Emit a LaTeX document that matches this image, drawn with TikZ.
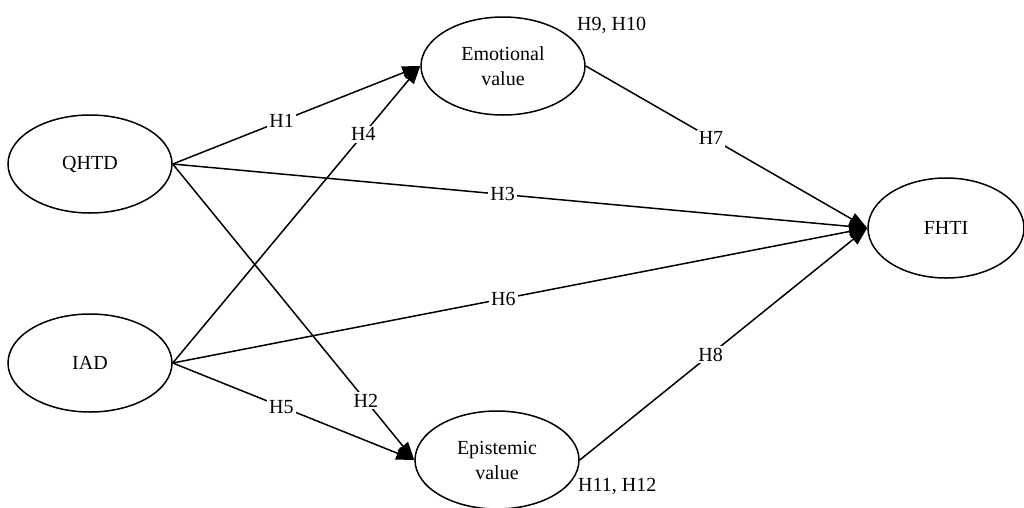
\documentclass[tikz,border=0pt]{standalone}
\usepackage{fontspec}
\setmainfont{Liberation Serif}
\usetikzlibrary{arrows.meta, shapes.geometric}

\begin{document}
\begin{tikzpicture}[x=1pt, y=-1pt, >={Triangle[length=18pt, width=13pt]},
  construct/.style={ellipse, draw, line width=1.5pt, minimum width=164pt,
    minimum height=98pt, inner sep=0pt, align=center,
    font=\fontsize{20}{25}\selectfont},
  link/.style={line width=1.5pt},
  hyp/.style={fill=white, inner sep=2pt, font=\fontsize{20}{22}\selectfont}]
  \useasboundingbox (0,0) rectangle (1024,507);
  % Constructs
  \node[construct] (qhtd) at (90,164) {QHTD};
  \node[construct] (iad) at (90,363) {IAD};
  \node[construct] (emo) at (503,66) {Emotional\\value};
  \node[construct] (epi) at (497,460) {Epistemic\\value};
  \node[construct, minimum width=156pt, minimum height=100pt] (fhti) at (946,228) {FHTI};
  % Mediation labels
  \node[hyp, anchor=west] (med1) at (575,25) {H9, H10};
  \node[hyp, anchor=west] (med2) at (576,486) {H11, H12};
  % Paths from QHTD
  \draw[link, ->] (qhtd.east) -- (emo.west) node[hyp, pos=0.44] {H1};
  \draw[link, ->] (qhtd.east) -- (fhti.west) node[hyp, pos=0.475] {H3};
  \draw[link, ->] (qhtd.east) -- (epi.west) node[hyp, pos=0.8] {H2};
  % Paths from IAD
  \draw[link, ->] (iad.east) -- (emo.west) node[hyp, pos=0.77] {H4};
  \draw[link, ->] (iad.east) -- (fhti.west) node[hyp, pos=0.476] {H6};
  \draw[link, ->] (iad.east) -- (epi.west) node[hyp, pos=0.45] {H5};
  % Paths to FHTI
  \draw[link, ->] (emo.east) -- (fhti.west) node[hyp, pos=0.445] {H7};
  \draw[link, ->] (epi.east) -- (fhti.west) node[hyp, pos=0.455] {H8};
\end{tikzpicture}
\end{document}
